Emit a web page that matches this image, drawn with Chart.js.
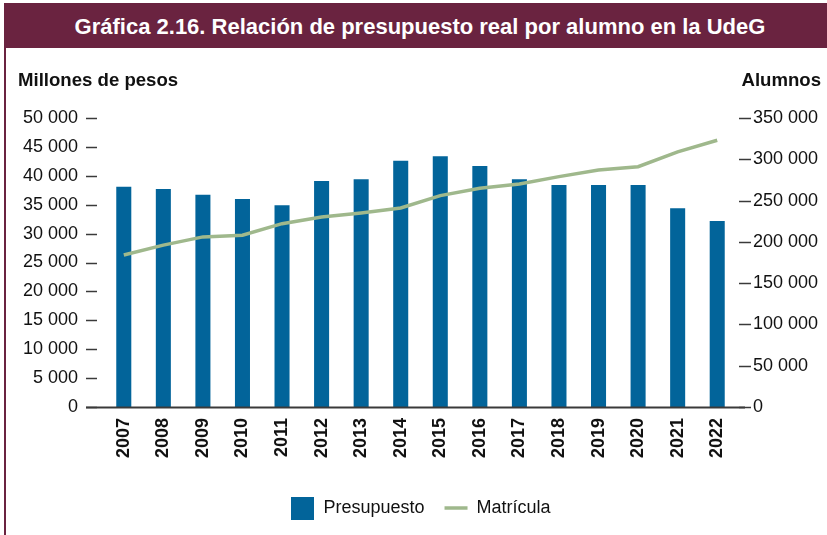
<!DOCTYPE html>
<html>
<head>
<meta charset="utf-8">
<script src="https://cdn.jsdelivr.net/npm/chart.js@4"></script>
<style>
    body { margin: 0; background: #fff; font-family: "Liberation Sans", Arial, sans-serif; }
    .frame { position: relative; width: 827px; height: 535px; overflow: hidden; }
    .band { position: absolute; left: 4px; top: 3px; width: 830px; height: 45px; background: #6a2340; color: #fff;
            font-weight: bold; font-size: 22px; line-height: 47px; text-align: center; text-indent: 2px; }
    .border-left { position: absolute; left: 4px; top: 3px; width: 2px; height: 540px; background: #6a2340; }
    .axis-title { position: absolute; top: 69px; font-weight: bold; font-size: 18.6px; color: #111; }
    canvas { position: absolute; left: 0; top: 0; }
</style>
</head>
<body>
<div class="frame">
    <canvas id="chart" width="827" height="535"></canvas>
    <div class="band">Gráfica 2.16. Relación de presupuesto real por alumno en la UdeG</div>
    <div class="border-left"></div>
    <div class="axis-title" style="left:18px">Millones de pesos</div>
    <div class="axis-title" style="right:6px">Alumnos</div>
</div>
<script>
const years = ['2007', '2008', '2009', '2010', '2011', '2012', '2013', '2014',
    '2015', '2016', '2017', '2018', '2019', '2020', '2021', '2022'];
const presupuesto = [38100, 37700, 36700, 36000, 34900, 39100, 39400, 42600,
    43400, 41700, 39400, 38400, 38400, 38400, 34400, 32200];
const matricula = [184000, 196000, 206000, 208000, 222000, 230000, 235000, 241000,
    256000, 265000, 270000, 279000, 287000, 291000, 309000, 323000];
const leftTicks = [0, 5000, 10000, 15000, 20000, 25000, 30000, 35000, 40000, 45000, 50000];
const rightTicks = [0, 50000, 100000, 150000, 200000, 250000, 300000, 350000];

const barColor = '#02649a';
const lineColor = '#9fb88c';
const axisColor = '#3a3a3a';

// thousands with a plain space: 50000 -> "50 000"
const fmt = v => String(v).replace(/\B(?=(\d{3})+(?!\d))/g, ' ');

// 23px square used as the legend swatch of the bars
const barSwatch = document.createElement('canvas');
barSwatch.width = 23;
barSwatch.height = 23;
const sw = barSwatch.getContext('2d');
sw.fillStyle = barColor;
sw.fillRect(0, 0, 23, 23);

// short dashes next to the labels and the base line, like the original
const axisMarks = {
    id: 'axisMarks',
    afterDraw(chart) {
        const { ctx, scales } = chart;
        ctx.save();
        ctx.strokeStyle = axisColor;
        ctx.lineWidth = 1.5;
        leftTicks.forEach(v => {
            const y = Math.round(scales.y.getPixelForValue(v)) + 0.5;
            ctx.beginPath();
            ctx.moveTo(86, y);
            ctx.lineTo(97, y);
            ctx.stroke();
        });
        rightTicks.forEach(v => {
            const y = Math.round(scales.y1.getPixelForValue(v)) + 0.5;
            ctx.beginPath();
            ctx.moveTo(739, y);
            ctx.lineTo(751, y);
            ctx.stroke();
        });
        const base = Math.round(scales.y.getPixelForValue(0)) + 0.5;
        ctx.lineWidth = 2;
        ctx.beginPath();
        ctx.moveTo(86, base);
        ctx.lineTo(745, base);
        ctx.stroke();
        ctx.restore();
    }
};

const ctx = document.getElementById('chart').getContext('2d');

new Chart(ctx, {
    data: {
        labels: years,
        datasets: [
            {
                type: 'bar',
                label: 'Presupuesto',
                data: presupuesto,
                backgroundColor: barColor,
                yAxisID: 'y',
                barPercentage: 0.38,
                categoryPercentage: 1,
                pointStyle: barSwatch,
                order: 1
            },
            {
                type: 'line',
                label: 'Matrícula',
                data: matricula,
                borderColor: lineColor,
                backgroundColor: lineColor,
                borderWidth: 3.5,
                pointRadius: 0,
                pointStyle: 'line',
                tension: 0,
                yAxisID: 'y1',
                order: 0
            }
        ]
    },
    options: {
        responsive: false,
        animation: false,
        layout: { padding: { top: 118, left: 15, right: 0, bottom: 8 } },
        plugins: {
            title: { display: false },
            tooltip: { enabled: false },
            legend: {
                position: 'bottom',
                labels: {
                    usePointStyle: true,
                    pointStyleWidth: 23,
                    padding: 20,
                    color: '#111',
                    font: { family: '"Liberation Sans", Arial, sans-serif', size: 18 },
                    sort: (a, b) => a.datasetIndex - b.datasetIndex
                }
            }
        },
        scales: {
            x: {
                grid: { display: false, drawTicks: false },
                border: { display: false },
                afterFit: scale => { scale.height = 72; },
                ticks: {
                    maxRotation: 90,
                    minRotation: 90,
                    padding: 11,
                    color: '#111',
                    font: { family: '"Liberation Sans", Arial, sans-serif', size: 18, weight: 'bold' }
                }
            },
            y: {
                position: 'left',
                min: 0,
                max: 50000,
                grid: { display: false, drawTicks: false },
                border: { display: false },
                afterFit: scale => { scale.width = 89; },
                ticks: {
                    stepSize: 5000,
                    padding: 26,
                    color: '#111',
                    font: { family: '"Liberation Sans", Arial, sans-serif', size: 18 },
                    callback: v => fmt(v)
                }
            },
            y1: {
                position: 'right',
                min: 0,
                max: 350000,
                grid: { display: false, drawTicks: false },
                border: { display: false },
                afterFit: scale => { scale.width = 90; },
                ticks: {
                    stepSize: 50000,
                    padding: 16,
                    color: '#111',
                    font: { family: '"Liberation Sans", Arial, sans-serif', size: 18 },
                    callback: v => fmt(v)
                }
            }
        }
    },
    plugins: [axisMarks]
});
</script>
</body>
</html>
